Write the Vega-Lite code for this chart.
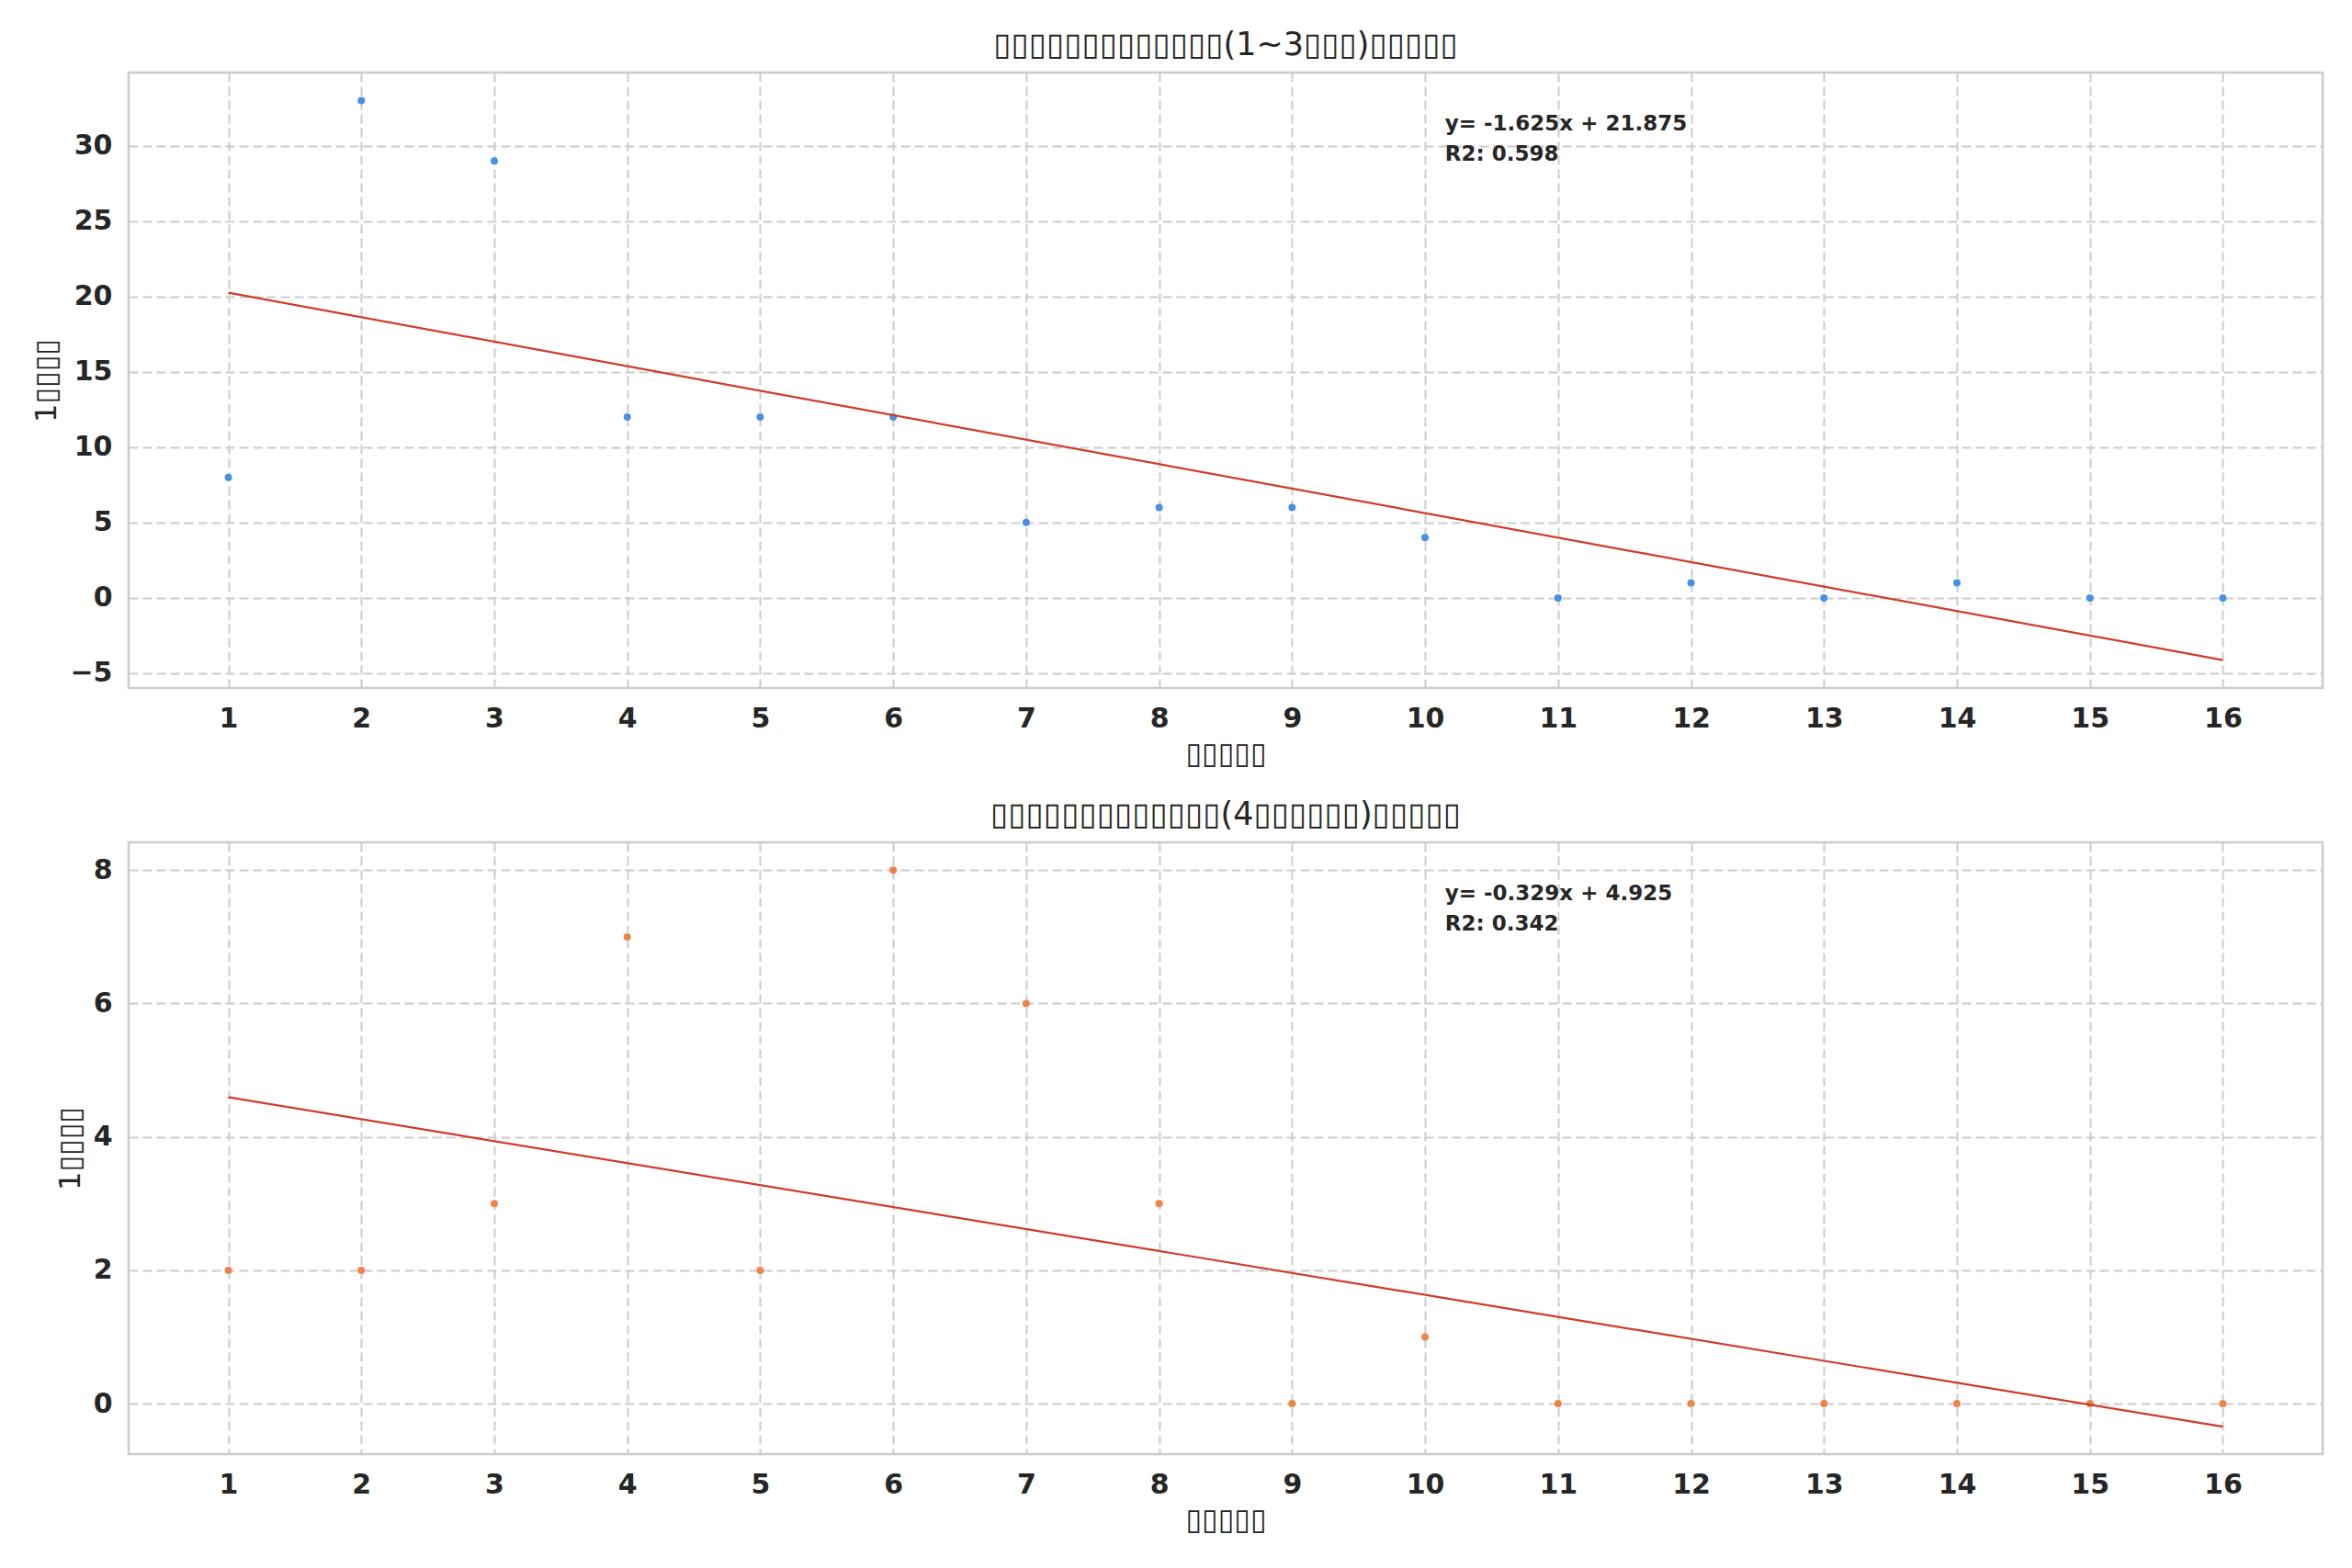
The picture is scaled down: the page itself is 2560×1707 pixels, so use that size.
{
  "$schema": "https://vega.github.io/schema/vega-lite/v6.json",
  "background": "white",
  "padding": {"left": 33, "top": 30, "right": 0, "bottom": 0},
  "config": {
    "font": "DejaVu Sans",
    "view": {"stroke": "#cccccc", "strokeWidth": 2.5},
    "axis": {
      "domain": false,
      "ticks": false,
      "grid": true,
      "gridColor": "#cccccc",
      "gridDash": [10, 5],
      "gridWidth": 2,
      "labelFont": "DejaVu Sans",
      "labelFontWeight": "bold",
      "labelFontSize": 30,
      "labelColor": "#262626",
      "labelPadding": 18,
      "titleFont": "DejaVu Sans",
      "titleFontWeight": "normal",
      "titleFontSize": 32,
      "titleColor": "#262626",
      "titlePadding": 8
    },
    "title": {"font": "DejaVu Sans", "fontSize": 35, "fontWeight": "normal", "color": "#262626", "offset": 12},
    "concat": {"spacing": 30}
  },
  "datasets": {
    "top": [
      {"x": 1, "y": 8}, {"x": 2, "y": 33}, {"x": 3, "y": 29}, {"x": 4, "y": 12},
      {"x": 5, "y": 12}, {"x": 6, "y": 12}, {"x": 7, "y": 5}, {"x": 8, "y": 6},
      {"x": 9, "y": 6}, {"x": 10, "y": 4}, {"x": 11, "y": 0}, {"x": 12, "y": 1},
      {"x": 13, "y": 0}, {"x": 14, "y": 1}, {"x": 15, "y": 0}, {"x": 16, "y": 0}
    ],
    "bottom": [
      {"x": 1, "y": 2}, {"x": 2, "y": 2}, {"x": 3, "y": 3}, {"x": 4, "y": 7},
      {"x": 5, "y": 2}, {"x": 6, "y": 8}, {"x": 7, "y": 6}, {"x": 8, "y": 3},
      {"x": 9, "y": 0}, {"x": 10, "y": 1}, {"x": 11, "y": 0}, {"x": 12, "y": 0},
      {"x": 13, "y": 0}, {"x": 14, "y": 0}, {"x": 15, "y": 0}, {"x": 16, "y": 0}
    ],
    "topNote": [{"x": 10.15, "y": 32.1, "label": "y= -1.625x + 21.875\nR2: 0.598"}],
    "bottomNote": [{"x": 10.15, "y": 7.8, "label": "y= -0.329x + 4.925\nR2: 0.342"}]
  },
  "vconcat": [
    {
      "width": 2388,
      "height": 670,
      "title": "▯▯▯▯▯▯▯▯▯▯▯▯▯(1~3▯▯▯)▯▯▯▯▯",
      "layer": [
        {
          "data": {"name": "top"},
          "mark": {"type": "point", "filled": true, "size": 64, "opacity": 1, "color": "#4a90e2"},
          "encoding": {
            "x": {"field": "x", "type": "quantitative", "title": "▯▯▯▯▯",
              "scale": {"domain": [0.25, 16.75], "nice": false, "zero": false},
              "axis": {"values": [1, 2, 3, 4, 5, 6, 7, 8, 9, 10, 11, 12, 13, 14, 15, 16], "format": "d"}},
            "y": {"field": "y", "type": "quantitative", "title": "1▯▯▯▯",
              "scale": {"domain": [-5.98, 34.86], "nice": false, "zero": false},
              "axis": {"values": [-5, 0, 5, 10, 15, 20, 25, 30], "format": "d"}}
          }
        },
        {
          "data": {"name": "top"},
          "transform": [{"regression": "y", "on": "x"}],
          "mark": {"type": "line", "color": "#d03a2a", "strokeWidth": 2.2},
          "encoding": {
            "x": {"field": "x", "type": "quantitative"},
            "y": {"field": "y", "type": "quantitative"}
          }
        },
        {
          "data": {"name": "topNote"},
          "mark": {"type": "text", "align": "left", "baseline": "top", "lineBreak": "\n", "fontSize": 23, "lineHeight": 33, "fontWeight": "bold", "color": "#262626"},
          "encoding": {
            "x": {"field": "x", "type": "quantitative"},
            "y": {"field": "y", "type": "quantitative"},
            "text": {"field": "label"}
          }
        }
      ]
    },
    {
      "width": 2388,
      "height": 666,
      "title": "▯▯▯▯▯▯▯▯▯▯▯▯▯(4▯▯▯▯▯▯)▯▯▯▯▯",
      "layer": [
        {
          "data": {"name": "bottom"},
          "mark": {"type": "point", "filled": true, "size": 64, "opacity": 1, "color": "#ee8449"},
          "encoding": {
            "x": {"field": "x", "type": "quantitative", "title": "▯▯▯▯▯",
              "scale": {"domain": [0.25, 16.75], "nice": false, "zero": false},
              "axis": {"values": [1, 2, 3, 4, 5, 6, 7, 8, 9, 10, 11, 12, 13, 14, 15, 16], "format": "d"}},
            "y": {"field": "y", "type": "quantitative", "title": "1▯▯▯▯",
              "scale": {"domain": [-0.756, 8.417], "nice": false, "zero": false},
              "axis": {"values": [0, 2, 4, 6, 8], "format": "d"}}
          }
        },
        {
          "data": {"name": "bottom"},
          "transform": [{"regression": "y", "on": "x"}],
          "mark": {"type": "line", "color": "#d03a2a", "strokeWidth": 2.2},
          "encoding": {
            "x": {"field": "x", "type": "quantitative"},
            "y": {"field": "y", "type": "quantitative"}
          }
        },
        {
          "data": {"name": "bottomNote"},
          "mark": {"type": "text", "align": "left", "baseline": "top", "lineBreak": "\n", "fontSize": 23, "lineHeight": 33, "fontWeight": "bold", "color": "#262626"},
          "encoding": {
            "x": {"field": "x", "type": "quantitative"},
            "y": {"field": "y", "type": "quantitative"},
            "text": {"field": "label"}
          }
        }
      ]
    }
  ]
}
